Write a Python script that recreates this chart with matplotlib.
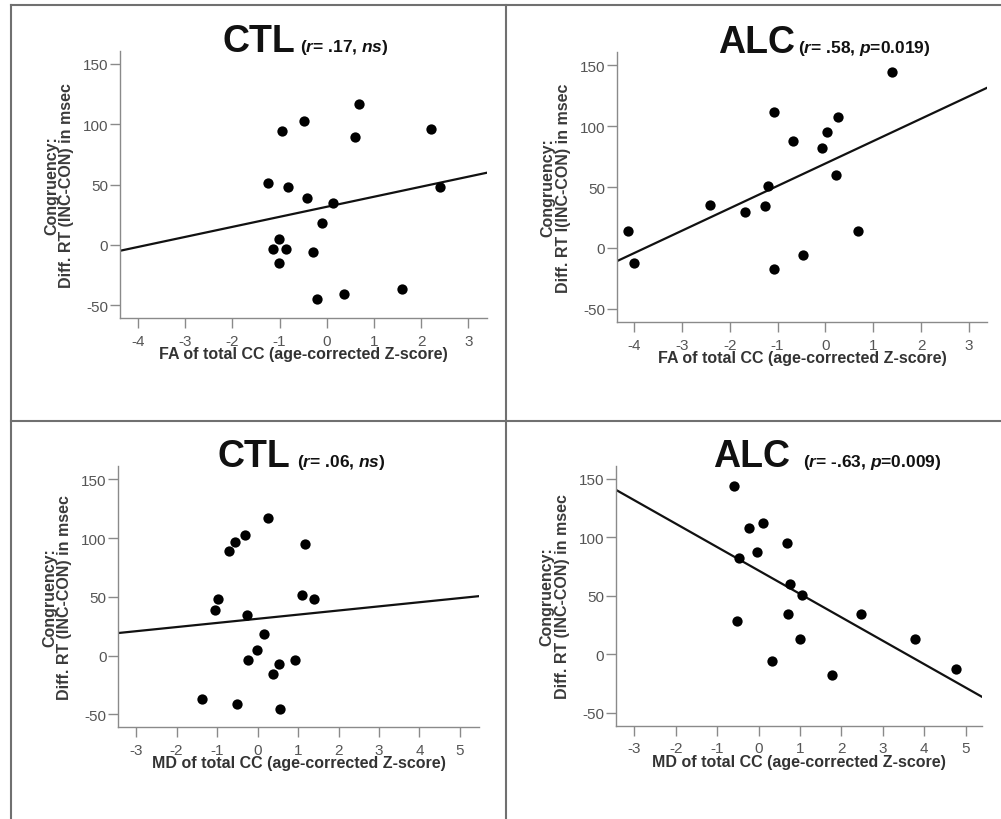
import numpy as np
import matplotlib
matplotlib.use("Agg")
import matplotlib.pyplot as plt
from matplotlib.lines import Line2D

plt.rcParams['font.family'] = ['Liberation Sans', 'DejaVu Sans']
plt.rcParams['mathtext.fontset'] = 'custom'
plt.rcParams['mathtext.it'] = 'Liberation Sans:italic:bold'
plt.rcParams['mathtext.rm'] = 'Liberation Sans:bold'
plt.rcParams['axes.unicode_minus'] = False

# CTL, FA of total CC
ctl_fa_x = [0.69, -0.48, -0.95, 0.61, 2.21, -1.25, -0.81, 2.40, -0.41, 0.14,
            -0.11, -1.02, -1.13, -0.87, -0.28, -1.01, -0.21, 0.37, 1.60]
ctl_fa_y = [116.9, 102.5, 94.5, 89.0, 96.0, 51.4, 48.3, 48.3, 38.4, 34.8,
            18.2, 4.7, -3.3, -3.3, -6.4, -15.5, -45.0, -41.2, -36.7]
ctl_fa_fit = (8.33, 31.5)  # slope, intercept

# ALC, FA of total CC
alc_fa_x = [1.39, -1.07, 0.27, 0.03, -0.68, -0.07, 0.22, -1.20, -2.41, -1.27,
            -1.68, -4.12, 0.67, -4.00, -0.46, -1.07]
alc_fa_y = [144.3, 111.5, 107.7, 95.4, 87.5, 81.8, 60.0, 51.0, 35.2, 34.1,
            29.2, 13.9, 13.9, -12.5, -5.7, -17.2]
alc_fa_fit = (18.4, 69.3)

# CTL, MD of total CC
ctl_md_x = [0.27, -0.31, -0.56, -0.71, 1.16, -0.98, -1.06, 1.09, 1.40, -0.27,
            0.17, -0.01, -0.23, 0.53, 0.93, 0.37, -1.38, -0.50, 0.56]
ctl_md_y = [117.0, 102.8, 96.6, 89.3, 94.9, 48.3, 38.4, 51.7, 48.3, 34.5,
            18.1, 4.5, -3.4, -6.8, -3.4, -15.8, -37.3, -41.5, -45.2]
ctl_md_fit = (3.52, 31.3)

# ALC, MD of total CC
alc_md_x = [-0.59, -0.22, 0.11, -0.03, 0.69, -0.48, 0.75, 1.04, -0.52, 0.72,
            2.47, 1.00, 3.78, 0.32, 1.76, 4.77]
alc_md_y = [143.9, 107.7, 111.7, 87.5, 95.4, 81.8, 60.4, 50.4, 28.8, 34.8,
            34.2, 13.4, 13.4, -6.0, -17.7, -12.5]
alc_md_fit = (-20.0, 71.5)

fa_label = "FA of total CC (age-corrected Z-score)"
md_label = "MD of total CC (age-corrected Z-score)"
y_label_ctl = "Congruency:\nDiff. RT (INC-CON) in msec"
y_label_alc_fa = "Congruency:\nDiff. RT I(INC-CON) in msec"

fa_ticks = [-4, -3, -2, -1, 0, 1, 2, 3]
md_ticks = [-3, -2, -1, 0, 1, 2, 3, 4, 5]
y_ticks = [-50, 0, 50, 100, 150]

W, H = 1001, 820
fig = plt.figure(figsize=(W / 100, H / 100), dpi=100)


def draw_panel(rect_px, xs, ys, fit, xlim, ylim, xticks, xlabel, ylabel,
               group, stats, title_pos):
    left, top, right, bottom = rect_px
    ax = fig.add_axes([left / W, 1 - bottom / H, (right - left) / W, (bottom - top) / H])
    ax.scatter(xs, ys, s=55, color='black', zorder=3, linewidths=0)
    line_x = np.array(xlim)
    ax.plot(line_x, fit[0] * line_x + fit[1], color='#111111', lw=1.6, zorder=2)
    ax.set_xlim(xlim)
    ax.set_ylim(ylim)
    ax.set_xticks(xticks)
    ax.set_yticks(y_ticks)
    for side in ['top', 'right']:
        ax.spines[side].set_visible(False)
    for side in ['left', 'bottom']:
        ax.spines[side].set_color('#8a8a8a')
        ax.spines[side].set_linewidth(1.0)
    ax.tick_params(axis='both', direction='out', length=7, width=1.0,
                   color='#8a8a8a', labelcolor='#555555', labelsize=11)
    ax.tick_params(axis='x', pad=4.0)
    ax.tick_params(axis='y', pad=1.5)
    ax.set_xlabel(xlabel, fontsize=11.5, fontweight='bold', color='#333333')
    ax.xaxis.set_label_coords(0.5, -28 / (bottom - top))
    ax.set_ylabel(ylabel, fontsize=11.5, fontweight='bold', color='#3a3a3a',
                  linespacing=1.0)
    ax.yaxis.set_label_coords(-46 / (right - left), 0.5)
    ax.text(title_pos[0], 1.0, group, transform=ax.transAxes, ha='right',
            va='baseline', fontsize=27, fontweight='bold', color='#111111')
    ax.text(title_pos[1], 1.0, stats, transform=ax.transAxes, ha='left',
            va='baseline', fontsize=12.5, fontweight='bold', color='#111111')
    return ax


draw_panel((120, 51.7, 486.7, 319.3), ctl_fa_x, ctl_fa_y, ctl_fa_fit,
           (-4.38, 3.39), (-61, 161), fa_ticks, fa_label, y_label_ctl,
           "CTL", r"($r$= .17, $ns$)", (0.477, 0.49))
draw_panel((616.7, 52.7, 987.3, 323.3), alc_fa_x, alc_fa_y, alc_fa_fit,
           (-4.36, 3.38), (-61, 161), fa_ticks, fa_label, y_label_alc_fa,
           "ALC", r"($r$= .58, $p$=0.019)", (0.481, 0.49))
draw_panel((118.3, 467.3, 479, 728.3), ctl_md_x, ctl_md_y, ctl_md_fit,
           (-3.44, 5.47), (-61, 161), md_ticks, md_label, y_label_ctl,
           "CTL", r"($r$= .06, $ns$)", (0.476, 0.495))
draw_panel((615.7, 466.7, 982.3, 726.7), alc_md_x, alc_md_y, alc_md_fit,
           (-3.45, 5.40), (-61, 161), md_ticks, md_label, y_label_ctl,
           "ALC", r"($r$= -.63, $p$=0.009)", (0.475, 0.512))

# table-like frame around the panels
frame = dict(color='#707070', lw=1.5, transform=fig.transFigure)
fig.add_artist(Line2D([11 / W, 1], [1 - 6 / H, 1 - 6 / H], **frame))
fig.add_artist(Line2D([11 / W, 11 / W], [0, 1 - 6 / H], **frame))
fig.add_artist(Line2D([506 / W, 506 / W], [0, 1 - 6 / H], **frame))
fig.add_artist(Line2D([11 / W, 1], [1 - 422 / H, 1 - 422 / H], **frame))

fig.savefig("out.png", dpi=100)
